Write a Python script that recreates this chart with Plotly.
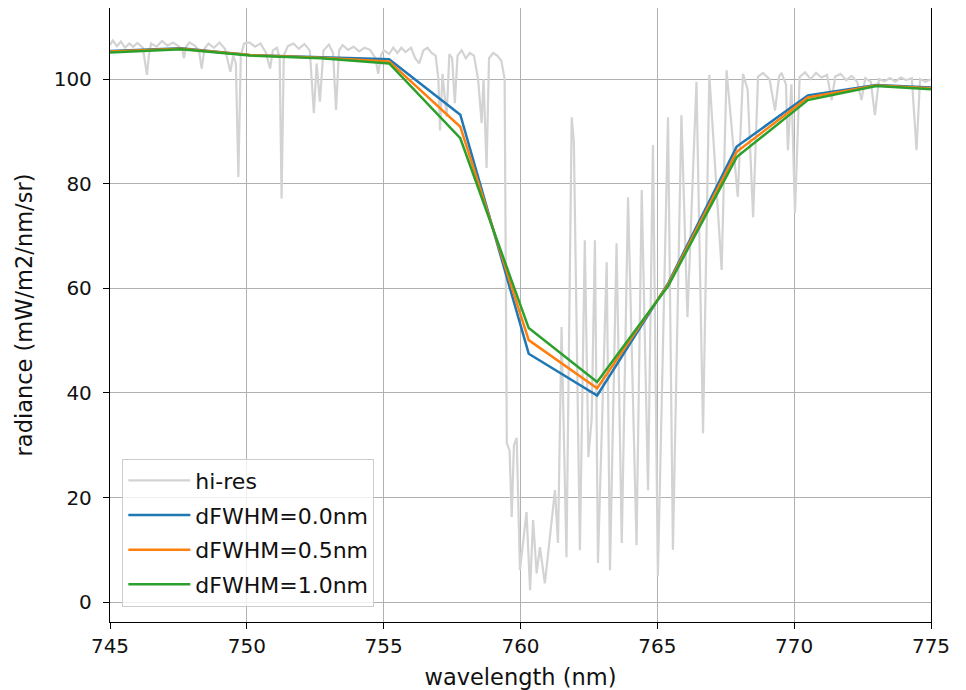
import plotly.graph_objects as go

# hi-res spectrum
hires_wl = [745.0, 745.1, 745.25, 745.4, 745.55, 745.7, 745.85, 746.0, 746.2, 746.3, 746.35, 746.42, 746.5, 746.7,
            746.9, 747.1, 747.3, 747.5, 747.65, 747.7, 747.78, 747.9, 748.1, 748.25, 748.35, 748.45, 748.6, 748.8,
            749.0, 749.2, 749.35, 749.4, 749.5, 749.6, 749.69, 749.78, 749.9, 750.1, 750.3, 750.5, 750.7, 750.85,
            750.95, 751.1, 751.2, 751.27, 751.35, 751.5, 751.7, 751.9, 752.1, 752.3, 752.45, 752.55, 752.67, 752.8,
            753.0, 753.15, 753.26, 753.37, 753.5, 753.7, 753.9, 754.1, 754.3, 754.5, 754.7, 754.8, 754.9, 755.0,
            755.2, 755.35, 755.5, 755.65, 755.8, 756.0, 756.15, 756.3, 756.45, 756.6, 756.75, 756.9, 757.0, 757.06,
            757.15, 757.3, 757.4, 757.5, 757.6, 757.7, 757.85, 758.0, 758.15, 758.3, 758.45, 758.58, 758.65, 758.76,
            758.85, 759.0, 759.15, 759.3, 759.42, 759.5, 759.6, 759.68, 759.76, 759.86, 759.98, 760.1, 760.22, 760.35,
            760.46, 760.59, 760.71, 760.89, 761.08, 761.26, 761.37, 761.5, 761.68, 761.87, 761.95, 762.17, 762.35,
            762.48, 762.6, 762.72, 762.83, 763.15, 763.27, 763.51, 763.7, 763.93, 764.24, 764.43, 764.66, 764.84,
            765.02, 765.39, 765.57, 765.88, 766.1, 766.43, 766.67, 766.9, 767.35, 767.53, 767.94, 768.13, 768.3,
            768.5, 768.68, 768.86, 769.1, 769.3, 769.45, 769.54, 769.7, 769.77, 769.9, 770.03, 770.2, 770.4, 770.6,
            770.8, 771.0, 771.2, 771.37, 771.5, 771.7, 771.9, 772.1, 772.3, 772.46, 772.6, 772.8, 772.95, 773.1,
            773.3, 773.5, 773.7, 773.9, 774.1, 774.3, 774.47, 774.6, 774.8, 775.0]
hires_val = [106.5, 107.4, 106.3, 107.2, 106.0, 106.8, 106.2, 106.9, 106.0, 103.0, 100.8, 104.5, 106.8, 106.2,
             107.3, 106.4, 107.0, 106.3, 105.5, 104.0, 106.2, 107.0, 106.4, 105.5, 102.0, 105.8, 106.8, 106.0,
             107.0, 105.8, 102.5, 101.4, 104.5, 103.0, 81.3, 104.5, 106.8, 107.0, 106.2, 106.8, 105.0, 102.0,
             105.5, 106.0, 104.0, 77.2, 104.5, 106.3, 106.8, 105.8, 106.7, 105.5, 93.5, 103.0, 95.7, 105.5,
             106.6, 105.0, 94.1, 105.5, 106.5, 105.6, 106.2, 105.3, 106.0, 105.6, 104.0, 101.0, 104.5, 105.5,
             104.8, 106.0, 105.0, 106.0, 105.2, 106.0, 104.0, 103.0, 105.5, 106.0, 105.0, 104.5, 100.0, 90.2,
             101.0, 92.8, 104.8, 104.0, 95.4, 104.5, 105.5, 104.0, 105.0, 104.5, 100.0, 91.6, 100.0, 83.0,
             104.0, 105.0, 104.5, 103.5, 100.0, 30.4, 29.0, 16.3, 30.0, 31.4, 6.1, 12.0, 17.2, 2.3,
             15.7, 5.5, 10.5, 3.6, 12.4, 21.4, 11.3, 52.6, 8.6, 92.7, 88.0, 9.9, 69.2,
             27.7, 35.0, 69.2, 7.5, 65.0, 6.1, 68.6, 11.3, 77.4, 10.9, 78.8, 21.4, 87.4,
             5.0, 92.7, 10.0, 93.1, 54.5, 99.5, 32.3, 100.8, 63.5, 101.7, 77.5, 101.0, 98.0,
             73.6, 100.5, 101.2, 100.0, 94.0, 100.5, 101.2, 99.0, 86.4, 99.0, 74.4, 100.4, 101.3, 100.0,
             101.2, 100.3, 100.8, 96.0, 100.5, 101.0, 99.8, 100.6, 99.5, 96.0, 100.2, 99.5, 93.1, 100.0,
             99.6, 100.2, 99.5, 100.3, 99.8, 100.2, 86.4, 100.0, 99.5, 100.0]

# convolved spectra at the band centres
conv_wl = [745.0, 747.6, 750.1, 752.7, 755.2, 757.8, 760.3, 762.8, 765.4, 767.9, 770.5, 773.0, 775.5]
fwhm_00 = [105.4, 105.9, 104.6, 104.2, 103.8, 93.2, 47.5, 39.5, 61.0, 87.1, 96.9, 98.9, 98.3]
fwhm_05 = [105.3, 105.8, 104.6, 104.1, 103.4, 90.9, 50.1, 40.9, 60.8, 86.1, 96.5, 98.8, 98.1]
fwhm_10 = [105.1, 105.7, 104.5, 104.0, 103.0, 88.7, 52.4, 42.1, 60.5, 85.1, 96.0, 98.7, 97.9]

fig = go.Figure()
fig.add_trace(go.Scatter(x=hires_wl, y=hires_val, mode="lines", name="hi-res",
                         line=dict(color="#d3d3d3", width=2.2), legendgroup="a"))
fig.add_trace(go.Scatter(x=conv_wl, y=fwhm_00, mode="lines", name="dFWHM=0.0nm",
                         line=dict(color="#1f77b4", width=2.5), legendgroup="b"))
fig.add_trace(go.Scatter(x=conv_wl, y=fwhm_05, mode="lines", name="dFWHM=0.5nm",
                         line=dict(color="#ff7f0e", width=2.5), legendgroup="c"))
fig.add_trace(go.Scatter(x=conv_wl, y=fwhm_10, mode="lines", name="dFWHM=1.0nm",
                         line=dict(color="#2ca02c", width=2.5), legendgroup="d"))

axis_style = dict(showline=True, linecolor="black", linewidth=1.3, mirror=True,
                  ticks="outside", ticklen=6, tickcolor="black", tickwidth=1.3,
                  showgrid=True, gridcolor="#b0b0b0", gridwidth=1.1, zeroline=False,
                  tickfont=dict(size=20, color="#111111"))

# page body adds an 8px offset, so the figure is sized to fit inside the window
fig.update_layout(
    width=950, height=682,
    margin=dict(l=102, r=27, t=0, b=68),
    paper_bgcolor="white", plot_bgcolor="white",
    font=dict(family="DejaVu Sans", size=20, color="#111111"),
    xaxis=dict(range=[745, 775], tickvals=[745, 750, 755, 760, 765, 770, 775],
               ticklabelstandoff=0, automargin=False,
               title=dict(text="wavelength (nm)", standoff=14, font=dict(size=22.5)), **axis_style),
    yaxis=dict(range=[-3.8, 113.6], tickvals=[0, 20, 40, 60, 80, 100],
               ticklabelstandoff=7, automargin=False,
               title=dict(text="radiance (mW/m2/nm/sr)", standoff=14, font=dict(size=22.5)), **axis_style),
    legend=dict(x=0.015, y=0.025, xanchor="left", yanchor="bottom",
                bgcolor="rgba(255,255,255,0.8)", bordercolor="#cccccc", borderwidth=1,
                font=dict(size=22), tracegroupgap=3, itemwidth=62),
    showlegend=True,
)

fig.write_html("out.html")
